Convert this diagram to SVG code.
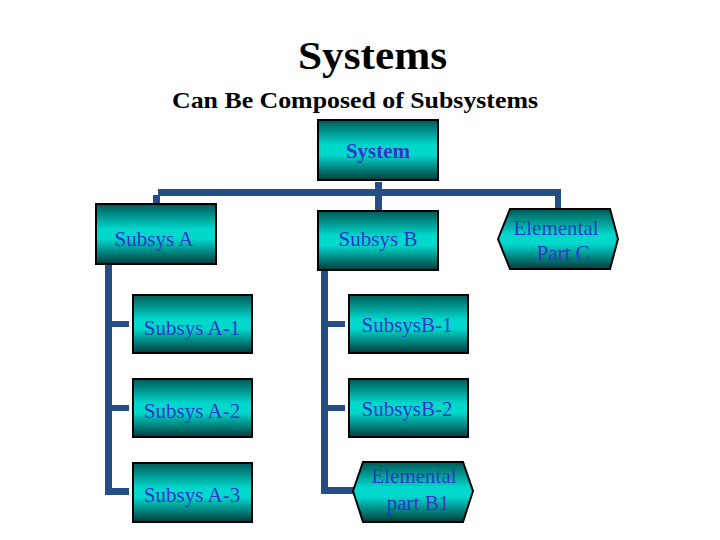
<svg xmlns="http://www.w3.org/2000/svg" width="720" height="540" viewBox="0 0 720 540">
<defs>
<linearGradient id="tg" x1="0" y1="0" x2="0" y2="1">
<stop offset="0" stop-color="#005a58"/>
<stop offset="0.42" stop-color="#00d8cc"/>
<stop offset="0.58" stop-color="#00d8cc"/>
<stop offset="1" stop-color="#003c3c"/>
</linearGradient>
<style>
.box{fill:url(#tg);stroke:#000;stroke-width:2}
.lbl{font-family:"Liberation Serif","Times New Roman",serif;font-size:21px;fill:#3434c8;text-anchor:middle}
.ttl{font-family:"Liberation Serif","Times New Roman",serif;font-weight:bold;fill:#000;text-anchor:middle}
.con{fill:#254e86}
</style>
</defs>
<rect width="720" height="540" fill="#fff"/>
<text class="ttl" x="372.5" y="69" font-size="41" textLength="149" lengthAdjust="spacingAndGlyphs">Systems</text>
<text class="ttl" x="355" y="108" font-size="23" textLength="366" lengthAdjust="spacingAndGlyphs">Can Be Composed of Subsystems</text>

<g id="connectors">
<rect class="con" x="158" y="189" width="397" height="7"/>
<rect class="con" x="153" y="195" width="7" height="9"/>
<rect class="con" x="555" y="189" width="6" height="20"/>
<rect class="con" x="375" y="182" width="7" height="29"/>
<rect class="con" x="105" y="264" width="7" height="231"/>
<rect class="con" x="105" y="321" width="24" height="6"/>
<rect class="con" x="105" y="405" width="24" height="6"/>
<rect class="con" x="105" y="488" width="24" height="7"/>
<rect class="con" x="321" y="270" width="7" height="224"/>
<rect class="con" x="321" y="321" width="24" height="6"/>
<rect class="con" x="321" y="405" width="24" height="6"/>
<rect class="con" x="321" y="487" width="34" height="7"/>
</g>

<g id="system">
<rect class="box" x="318" y="120" width="120" height="60"/>
<text class="lbl" x="378" y="158" font-size="24" font-weight="bold" fill="#3a2ad0">System</text>
</g>
<g id="subsysA">
<rect class="box" x="96" y="204" width="120" height="60"/>
<text class="lbl" x="154" y="246">Subsys A</text>
</g>
<g id="subsysB">
<rect class="box" x="318" y="211" width="120" height="59"/>
<text class="lbl" x="378" y="246">Subsys B</text>
</g>
<g id="partC">
<polygon class="box" points="498,239 510,209 610,209 618,239 610,269 510,269"/>
<text class="lbl" x="556" y="235">Elemental</text>
<text class="lbl" x="563" y="260">Part C</text>
</g>
<g id="subsysA1">
<rect class="box" x="133" y="295" width="119" height="58"/>
<text class="lbl" x="192" y="335">Subsys A-1</text>
</g>
<g id="subsysA2">
<rect class="box" x="133" y="379" width="119" height="58"/>
<text class="lbl" x="192" y="418">Subsys A-2</text>
</g>
<g id="subsysA3">
<rect class="box" x="133" y="463" width="119" height="59"/>
<text class="lbl" x="192" y="502">Subsys A-3</text>
</g>
<g id="subsysB1">
<rect class="box" x="349" y="295" width="119" height="58"/>
<text class="lbl" x="407" y="332">SubsysB-1</text>
</g>
<g id="subsysB2">
<rect class="box" x="349" y="379" width="119" height="58"/>
<text class="lbl" x="407" y="416">SubsysB-2</text>
</g>
<g id="partB1">
<polygon class="box" points="353,491 363,462 463,462 473,491 463,522 363,522"/>
<text class="lbl" x="414" y="483">Elemental</text>
<text class="lbl" x="418" y="510">part B1</text>
</g>
</svg>
